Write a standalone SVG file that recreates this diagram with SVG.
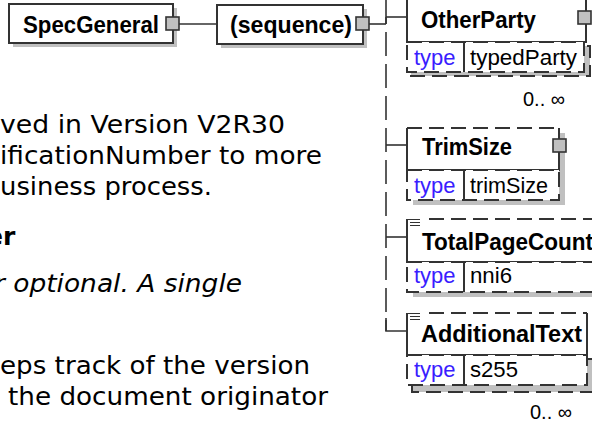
<svg xmlns="http://www.w3.org/2000/svg" width="592" height="421" viewBox="0 0 592 421">
<style>
.body{font-family:"DejaVu Sans",Verdana,sans-serif;font-size:25px;fill:#000}
.name{font-family:"Liberation Sans",Arial,sans-serif;font-weight:bold;font-size:24px;fill:#000}
.lbl{font-family:"Liberation Sans",Arial,sans-serif;font-size:22px;fill:#000}
.kw{fill:#3a1dff}
.mult{font-family:"Liberation Sans",Arial,sans-serif;font-size:20px;fill:#000}
.box{fill:#fff;stroke:#333;stroke-width:2}
.wfill{fill:#fff;stroke:none}
.shadow{fill:#c0c0c0;stroke:none}
.back{fill:#c0c0c0;stroke:#333;stroke-width:2;stroke-dasharray:15 7}
.solid{fill:none;stroke:#333;stroke-width:2}
.dash{fill:none;stroke:#333;stroke-width:2;stroke-dasharray:15 7}
.drow{fill:#fff;stroke:#333;stroke-width:2;stroke-dasharray:15 7}
.btn{fill:#c0c0c0;stroke:#333;stroke-width:1.6}
.conn{fill:none;stroke:#333;stroke-width:1.6}
.vdash{fill:none;stroke:#333;stroke-width:1.6;stroke-dasharray:24 8}
.icon{fill:none;stroke:#333;stroke-width:1.2}
</style>
<rect x="0" y="0" width="592" height="421" fill="#fff"/>

<g id="text">
<text class="body" x="0" y="133" textLength="285" lengthAdjust="spacingAndGlyphs">ved in Version V2R30</text>
<text class="body" x="0" y="164" textLength="322" lengthAdjust="spacingAndGlyphs">ificationNumber to more</text>
<text class="body" x="0" y="195" textLength="212" lengthAdjust="spacingAndGlyphs">usiness process.</text>
<text class="body" x="-14" y="245" font-weight="bold" font-size="26">er</text>
<text class="body" x="-6" y="292" font-style="italic" textLength="248" lengthAdjust="spacingAndGlyphs">r optional. A single</text>
<text class="body" x="0" y="374" textLength="310" lengthAdjust="spacingAndGlyphs">eps track of the version</text>
<text class="body" x="8" y="405" textLength="320" lengthAdjust="spacingAndGlyphs">the document originator</text>
</g>

<g id="connectors">
<line class="conn" x1="179" y1="24" x2="217" y2="24"/>
<line class="conn" x1="369" y1="24" x2="386" y2="24"/>
<line class="vdash" x1="386" y1="0" x2="386" y2="331"/>
<line class="conn" x1="386" y1="17" x2="386" y2="24"/>
<line class="conn" x1="386" y1="17" x2="407" y2="17"/>
<line class="conn" x1="386" y1="145" x2="407" y2="145"/>
<line class="conn" x1="386" y1="237" x2="407" y2="237"/>
<path class="conn" d="M386,318 V331 H407"/>
</g>

<g id="SpecGeneral">
<rect class="shadow" x="13" y="8" width="164" height="39"/>
<rect class="box" x="9" y="4" width="164" height="39"/>
<text class="name" x="23" y="33" textLength="136" lengthAdjust="spacingAndGlyphs">SpecGeneral</text>
<rect class="btn" x="166" y="17" width="13" height="13"/>
</g>

<g id="sequence">
<rect class="shadow" x="221" y="9" width="146" height="39"/>
<rect class="box" x="217" y="5" width="146" height="39"/>
<text class="name" x="230" y="33" textLength="122" lengthAdjust="spacingAndGlyphs">(sequence)</text>
<rect class="btn" x="356" y="17" width="13" height="13"/>
</g>

<g id="OtherParty">
<rect class="back" x="411" y="46" width="179" height="30"/>
<rect class="box" x="407" y="-10" width="179" height="52"/>
<rect class="drow" x="407" y="42" width="177" height="30"/>
<line class="solid" x1="464" y1="42" x2="464" y2="72"/>
<rect class="btn" x="578" y="11" width="13" height="13"/>
<text class="name" x="421" y="28" textLength="115" lengthAdjust="spacingAndGlyphs">OtherParty</text>
<text class="lbl kw" x="414" y="65">type</text>
<text class="lbl" x="470" y="65" textLength="107" lengthAdjust="spacingAndGlyphs">typedParty</text>
<text class="mult" x="523" y="106">0.. ∞</text>
</g>

<g id="TrimSize">
<rect class="shadow" x="413" y="133" width="152" height="72"/>
<rect class="wfill" x="407" y="128" width="152" height="42"/>
<path class="dash" d="M407,128 H559"/>
<path class="solid" d="M407,128 V170 H559 V128"/>
<rect class="drow" x="407" y="170" width="152" height="30"/>
<line class="solid" x1="464" y1="170" x2="464" y2="200"/>
<rect class="btn" x="553" y="139" width="13" height="13"/>
<text class="name" x="422" y="155" textLength="90" lengthAdjust="spacingAndGlyphs">TrimSize</text>
<text class="lbl kw" x="414" y="193">type</text>
<text class="lbl" x="470" y="193" textLength="78" lengthAdjust="spacingAndGlyphs">trimSize</text>
</g>

<g id="TotalPageCount">
<rect class="shadow" x="413" y="224" width="190" height="73"/>
<rect class="wfill" x="407" y="219" width="200" height="43"/>
<path class="dash" d="M429,219 H600"/>
<path class="solid" d="M407,219 V262 H600"/>
<path class="icon" d="M408,219.5 H420 M410,222.5 H420 M410,225.5 H420"/>
<rect class="drow" x="407" y="262" width="200" height="30"/>
<line class="solid" x1="464" y1="262" x2="464" y2="292"/>
<text class="name" x="422" y="250" textLength="171" lengthAdjust="spacingAndGlyphs">TotalPageCount</text>
<text class="lbl kw" x="414" y="283">type</text>
<text class="lbl" x="470" y="283" textLength="42" lengthAdjust="spacingAndGlyphs">nni6</text>
</g>

<g id="AdditionalText">
<rect class="back" x="412" y="359" width="185" height="33"/>
<rect class="wfill" x="407" y="313" width="180" height="42"/>
<path class="dash" d="M429,313 H587"/>
<path class="solid" d="M407,313 V355 H587 V313"/>
<path class="icon" d="M408,313.5 H420 M410,316.5 H420 M410,319.5 H420"/>
<rect class="drow" x="407" y="355" width="180" height="30"/>
<line class="solid" x1="464" y1="355" x2="464" y2="385"/>
<text class="name" x="421" y="342" textLength="161" lengthAdjust="spacingAndGlyphs">AdditionalText</text>
<text class="lbl kw" x="414" y="377">type</text>
<text class="lbl" x="470" y="377" textLength="48" lengthAdjust="spacingAndGlyphs">s255</text>
<text class="mult" x="530" y="419">0.. ∞</text>
</g>
</svg>
